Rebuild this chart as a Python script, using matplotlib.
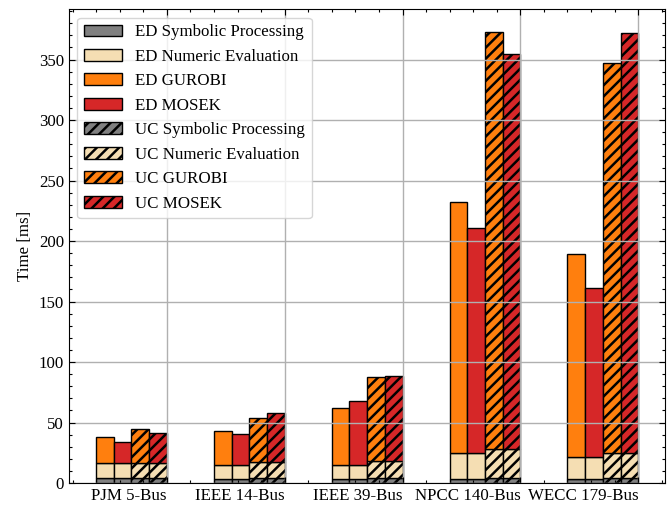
import matplotlib
matplotlib.use("Agg")
import matplotlib.pyplot as plt
import numpy as np
from matplotlib.ticker import AutoMinorLocator

plt.rcParams['font.family'] = ['Liberation Serif', 'DejaVu Serif']
plt.rcParams['font.size'] = 12.2
plt.rcParams['hatch.linewidth'] = 1.8
plt.rcParams['xtick.direction'] = 'in'
plt.rcParams['ytick.direction'] = 'in'
plt.rcParams['xtick.top'] = True
plt.rcParams['ytick.right'] = True

# datos (ms)
sistemas = ['PJM 5-Bus', 'IEEE 14-Bus', 'IEEE 39-Bus', 'NPCC 140-Bus', 'WECC 179-Bus']

ed_simbolico = [4.0, 3.3, 3.6, 3.6, 3.6]
ed_numerico = [12.3, 11.3, 11.3, 21.4, 17.6]
ed_gurobi = [21.5, 28.7, 46.8, 207.0, 167.8]
ed_mosek = [17.9, 25.6, 53.1, 185.5, 140.3]

uc_simbolico = [4.5, 4.5, 4.5, 4.5, 4.5]
uc_numerico = [12.5, 12.6, 13.7, 23.3, 20.5]
uc_gurobi = [27.9, 36.9, 69.7, 345.2, 321.8]
uc_mosek = [24.0, 40.5, 70.4, 326.7, 347.0]

c_simb = 'gray'
c_num = 'wheat'
c_gur = 'tab:orange'
c_mos = 'tab:red'


def barra_apilada(ax, pos, simb, num, solver, color, hatch, etiquetas):
    simb = np.array(simb)
    num = np.array(num)
    kw = dict(width=ancho, edgecolor='black', linewidth=1.0, hatch=hatch)
    ax.bar(pos, simb, color=c_simb, label=etiquetas[0], **kw)
    ax.bar(pos, num, bottom=simb, color=c_num, label=etiquetas[1], **kw)
    ax.bar(pos, solver, bottom=simb + num, color=color, label=etiquetas[2], **kw)


x = np.arange(len(sistemas))
ancho = 0.15

fig, ax = plt.subplots(figsize=(6.7, 5.08), dpi=100)
fig.subplots_adjust(left=0.103, right=0.993, bottom=0.049, top=0.982)

barra_apilada(ax, x - 3.5 * ancho, ed_simbolico, ed_numerico, ed_gurobi, c_gur, None,
              ['ED Symbolic Processing', 'ED Numeric Evaluation', 'ED GUROBI'])
barra_apilada(ax, x - 2.5 * ancho, ed_simbolico, ed_numerico, ed_mosek, c_mos, None,
              ['_nolegend_', '_nolegend_', 'ED MOSEK'])
barra_apilada(ax, x - 1.5 * ancho, uc_simbolico, uc_numerico, uc_gurobi, c_gur, '///',
              ['UC Symbolic Processing', 'UC Numeric Evaluation', 'UC GUROBI'])
barra_apilada(ax, x - 0.5 * ancho, uc_simbolico, uc_numerico, uc_mosek, c_mos, '///',
              ['_nolegend_', '_nolegend_', 'UC MOSEK'])

ax.set_xticks(x)
ax.set_xticklabels(sistemas, ha='right')
ax.set_ylabel('Time [ms]')
ax.xaxis.set_minor_locator(AutoMinorLocator())
ax.yaxis.set_minor_locator(AutoMinorLocator())
ax.tick_params(which='major', length=4, width=0.8)
ax.tick_params(which='minor', length=2, width=0.8)
ax.grid(True, which='major', color='#b0b0b0', linewidth=1.0)

ax.legend(loc='upper left', handlelength=2.2)

plt.savefig('out.png', dpi=100)
